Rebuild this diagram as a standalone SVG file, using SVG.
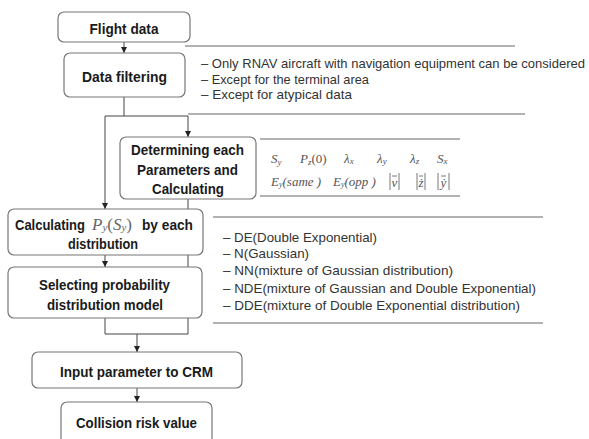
<svg xmlns="http://www.w3.org/2000/svg" width="589" height="439" viewBox="0 0 589 439">
<style>
.box{fill:#fff;stroke:#777;stroke-width:1.2}
.lbl{font-family:"Liberation Sans",Arial,sans-serif;font-weight:bold;font-size:15px;fill:#1a1a1a;text-anchor:middle}
.lbs{font-family:"Liberation Sans",Arial,sans-serif;font-weight:bold;font-size:15px;fill:#1a1a1a;text-anchor:start}
.item{font-family:"Liberation Sans",Arial,sans-serif;font-size:13.3px;fill:#333}
.math{font-family:"Liberation Serif","Times New Roman",serif;font-style:italic;font-size:13px;fill:#555}
.conn{fill:none;stroke:#444;stroke-width:1}
.sep{fill:none;stroke:#666;stroke-width:1}
</style>
<defs>
<marker id="arr" viewBox="0 0 6 6" refX="6" refY="3" markerWidth="6" markerHeight="6" orient="auto" markerUnits="userSpaceOnUse">
<path d="M0,0 L6,3 L0,6 z" fill="#222"/>
</marker>
</defs>
<g id="connectors">
<path class="conn" d="M124 42 V53" marker-end="url(#arr)"/>
<path class="conn" d="M124 97 V116"/>
<path class="conn" d="M105 116 V209" marker-end="url(#arr)"/>
<path class="conn" d="M105 116 H188 V137" marker-end="url(#arr)"/>
<path class="conn" d="M188 199 V334"/>
<path class="conn" d="M105 255 V267" marker-end="url(#arr)"/>
<path class="conn" d="M105 318 V334 H188"/>
<path class="conn" d="M137 334 V352" marker-end="url(#arr)"/>
<path class="conn" d="M137 388 V402" marker-end="url(#arr)"/>
</g>
<g id="separators">
<line class="sep" x1="185" y1="46" x2="515" y2="46"/>
<line class="sep" x1="188" y1="114" x2="525" y2="114"/>
<line class="sep" x1="260" y1="139" x2="460" y2="139"/>
<line class="sep" x1="260" y1="196" x2="460" y2="196"/>
<line class="sep" x1="213" y1="217" x2="543" y2="217"/>
<line class="sep" x1="213" y1="323" x2="543" y2="323"/>
</g>
<g id="flight-data">
<rect class="box" x="58" y="12" width="132" height="30" rx="6"/>
<text class="lbl" x="124" y="34" textLength="69" lengthAdjust="spacingAndGlyphs">Flight data</text>
</g>
<g id="data-filtering">
<rect class="box" x="64" y="53" width="121" height="44" rx="6"/>
<text class="lbl" x="124.5" y="82" textLength="85" lengthAdjust="spacingAndGlyphs">Data filtering</text>
</g>
<g id="filter-notes">
<text class="item" x="201" y="68" font-size="13" style="font-size:13px" textLength="384" lengthAdjust="spacingAndGlyphs">– Only RNAV aircraft with navigation equipment can be considered</text>
<text class="item" x="201" y="84" textLength="168" lengthAdjust="spacingAndGlyphs">– Except for the terminal area</text>
<text class="item" x="201" y="99" textLength="151" lengthAdjust="spacingAndGlyphs">– Except for atypical data</text>
</g>
<g id="determining">
<rect class="box" x="120" y="137" width="136" height="62" rx="6"/>
<text class="lbl" x="187.5" y="155" textLength="113" lengthAdjust="spacingAndGlyphs">Determining each</text>
<text class="lbl" x="187.5" y="175" textLength="101" lengthAdjust="spacingAndGlyphs">Parameters and</text>
<text class="lbl" x="188" y="194" textLength="72" lengthAdjust="spacingAndGlyphs">Calculating</text>
</g>
<g id="parameters">
<text class="math" x="271" y="163">S<tspan font-size="9" dy="2">y</tspan></text>
<text class="math" x="300" y="163">P<tspan font-size="9" dy="2">z</tspan><tspan dy="-2" font-style="normal">(0)</tspan></text>
<text class="math" x="344" y="163">λ<tspan font-size="9" dy="1">x</tspan></text>
<text class="math" x="377" y="163">λ<tspan font-size="9" dy="1">y</tspan></text>
<text class="math" x="410" y="163">λ<tspan font-size="9" dy="1">z</tspan></text>
<text class="math" x="437" y="163">S<tspan font-size="9" dy="1">x</tspan></text>
<text class="math" x="271" y="186" font-size="11">E<tspan font-size="8" dy="1">y</tspan><tspan dy="-1">(same )</tspan></text>
<text class="math" x="333" y="186" font-size="11">E<tspan font-size="8" dy="1">y</tspan><tspan dy="-1">(opp )</tspan></text>
<g stroke="#555" stroke-width="0.8">
<line x1="390" y1="173" x2="390" y2="190"/><line x1="399" y1="173" x2="399" y2="190"/><line x1="392" y1="176" x2="397" y2="176"/>
<line x1="417" y1="173" x2="417" y2="190"/><line x1="425" y1="173" x2="425" y2="190"/><line x1="419" y1="176" x2="423" y2="176"/>
<line x1="438" y1="173" x2="438" y2="190"/><line x1="449" y1="173" x2="449" y2="190"/><line x1="441" y1="176" x2="446" y2="176"/>
</g>
<text class="math" x="394.5" y="187" font-size="11" font-style="normal" text-anchor="middle">v</text>
<text class="math" x="421" y="187" font-size="11" text-anchor="middle">ż</text>
<text class="math" x="443.5" y="187" font-size="11" text-anchor="middle">ẏ</text>
</g>
<g id="calculating">
<rect class="box" x="8" y="209" width="195" height="46" rx="6"/>
<text class="lbs" x="15" y="230" style="font-size:14px" textLength="70" lengthAdjust="spacingAndGlyphs">Calculating</text>
<text x="92" y="230" font-family="Liberation Serif,Times New Roman,serif" font-style="italic" font-size="17" fill="#666">P<tspan font-size="11" dy="1">y</tspan><tspan dy="-1" font-style="normal">(</tspan>S<tspan font-size="11" dy="1">y</tspan><tspan dy="-1" font-style="normal">)</tspan></text>
<text class="lbs" x="142" y="230" textLength="51" lengthAdjust="spacingAndGlyphs">by each</text>
<text class="lbl" x="103" y="249" textLength="70" lengthAdjust="spacingAndGlyphs">distribution</text>
</g>
<g id="selecting">
<rect class="box" x="8" y="267" width="194" height="51" rx="6"/>
<text class="lbl" x="104.5" y="290" textLength="131" lengthAdjust="spacingAndGlyphs">Selecting probability</text>
<text class="lbl" x="105" y="310" textLength="116" lengthAdjust="spacingAndGlyphs">distribution model</text>
</g>
<g id="distribution-list">
<text class="item" x="223" y="242" textLength="154" lengthAdjust="spacingAndGlyphs">– DE(Double Exponential)</text>
<text class="item" x="223" y="258" textLength="86" lengthAdjust="spacingAndGlyphs">– N(Gaussian)</text>
<text class="item" x="223" y="275" textLength="230" lengthAdjust="spacingAndGlyphs">– NN(mixture of Gaussian distribution)</text>
<text class="item" x="223" y="293" textLength="313" lengthAdjust="spacingAndGlyphs">– NDE(mixture of Gaussian and Double Exponential)</text>
<text class="item" x="223" y="310" textLength="297" lengthAdjust="spacingAndGlyphs">– DDE(mixture of Double Exponential distribution)</text>
</g>
<g id="input-crm">
<rect class="box" x="32" y="352" width="210" height="36" rx="6"/>
<text class="lbl" x="136.5" y="377" textLength="153" lengthAdjust="spacingAndGlyphs">Input parameter to CRM</text>
</g>
<g id="collision-risk">
<rect class="box" x="61" y="402" width="151" height="46" rx="6"/>
<text class="lbl" x="136.5" y="428" textLength="121" lengthAdjust="spacingAndGlyphs">Collision risk value</text>
</g>
</svg>
